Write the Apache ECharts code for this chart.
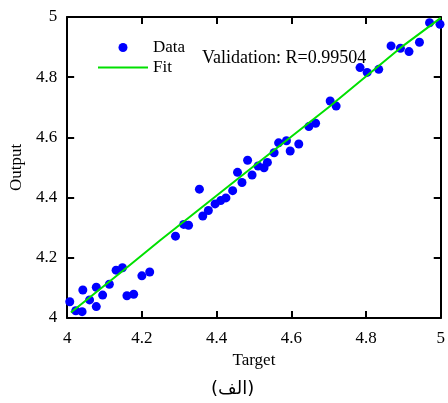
<!DOCTYPE html>
<html>
<head>
<meta charset="utf-8">
<script src="https://cdn.jsdelivr.net/npm/echarts@6/dist/echarts.min.js"></script>
<style>
  html, body { margin: 0; padding: 0; background: #fff; }
  #chart { width: 448px; height: 403px; }
</style>
</head>
<body>
<div id="chart"></div>
<script>
// Datos
const targetValues = [
  4.007, 4.023, 4.040, 4.042, 4.060, 4.078, 4.078, 4.095, 4.113, 4.131,
  4.148, 4.160, 4.178, 4.200, 4.221, 4.290, 4.312, 4.325, 4.354, 4.363,
  4.378, 4.396, 4.411, 4.425, 4.443, 4.456, 4.468, 4.483, 4.495, 4.511,
  4.527, 4.536, 4.554, 4.566, 4.587, 4.597, 4.620, 4.647, 4.665, 4.704,
  4.720, 4.784, 4.803, 4.834, 4.867, 4.892, 4.915, 4.943, 4.970, 4.998
];
const outputValues = [
  4.054, 4.024, 4.021, 4.093, 4.060, 4.102, 4.038, 4.076, 4.112, 4.159,
  4.167, 4.074, 4.079, 4.140, 4.153, 4.272, 4.311, 4.308, 4.428, 4.339,
  4.357, 4.379, 4.390, 4.399, 4.423, 4.484, 4.450, 4.524, 4.475, 4.505,
  4.499, 4.517, 4.549, 4.582, 4.589, 4.555, 4.578, 4.636, 4.647, 4.721,
  4.704, 4.832, 4.816, 4.826, 4.904, 4.896, 4.885, 4.916, 4.981, 4.976
];
const fitX = [4.01, 4.15, 4.25, 4.31, 4.5, 4.7, 4.9, 5.0];
const fitY = [4.018, 4.158, 4.259, 4.318, 4.505, 4.700, 4.905, 4.997];

const serif = 'Liberation Serif';
const scatterData = targetValues.map((x, i) => [x, outputValues[i]]);
const fitData = fitX.map((x, i) => [x, fitY[i]]);

const chart = echarts.init(document.getElementById('chart'));

const axisCommon = {
  type: 'value',
  min: 4,
  max: 5,
  interval: 0.2,
  splitLine: { show: false },
  axisLine: { show: true, lineStyle: { color: '#000', width: 2 } },
  axisTick: { show: true, inside: true, length: 7, lineStyle: { color: '#000', width: 2 } }
};

const option = {
  animation: false,
  grid: { left: 67, right: 4, top: 17, bottom: 85 },
  legend: {
    orient: 'vertical',
    left: 93,
    top: 34,
    itemWidth: 50,
    itemHeight: 9,
    itemGap: 3,
    textStyle: { fontFamily: serif, fontSize: 17, color: '#000' },
    data: [
      { name: 'Data', icon: 'circle' },
      { name: 'Fit', icon: 'path://M0,0L50,0L50,2L0,2Z' }
    ]
  },
  xAxis: [
    Object.assign({}, axisCommon, {
      position: 'bottom',
      name: 'Target',
      nameLocation: 'middle',
      nameGap: 34,
      nameTextStyle: { fontFamily: serif, fontSize: 17, color: '#000' },
      axisLabel: { fontFamily: serif, fontSize: 17, color: '#000', margin: 12 }
    }),
    Object.assign({}, axisCommon, { position: 'top', axisLabel: { show: false } })
  ],
  yAxis: [
    Object.assign({}, axisCommon, {
      position: 'left',
      name: 'Output',
      nameLocation: 'middle',
      nameGap: 34,
      nameTextStyle: { fontFamily: serif, fontSize: 17, color: '#000' },
      axisLabel: { fontFamily: serif, fontSize: 17, color: '#000', margin: 10 }
    }),
    Object.assign({}, axisCommon, { position: 'right', axisLabel: { show: false } })
  ],
  series: [
    {
      name: 'Data',
      type: 'scatter',
      data: scatterData,
      symbolSize: 9,
      itemStyle: { color: '#0000ff', opacity: 1 },
      z: 2
    },
    {
      name: 'Fit',
      type: 'line',
      data: fitData,
      symbol: 'none',
      itemStyle: { color: '#00e000' },
      lineStyle: { color: '#00e000', width: 2 },
      z: 3
    }
  ],
  graphic: [
    {
      type: 'text',
      left: 202,
      top: 49,
      style: { text: 'Validation: R=0.99504', fontFamily: serif, fontSize: 18, fill: '#000' }
    },
    {
      type: 'text',
      left: 211,
      top: 380,
      style: { text: '(الف)', fontFamily: 'DejaVu Sans', fontSize: 18, fill: '#000' }
    }
  ]
};

chart.setOption(option);
</script>
</body>
</html>
